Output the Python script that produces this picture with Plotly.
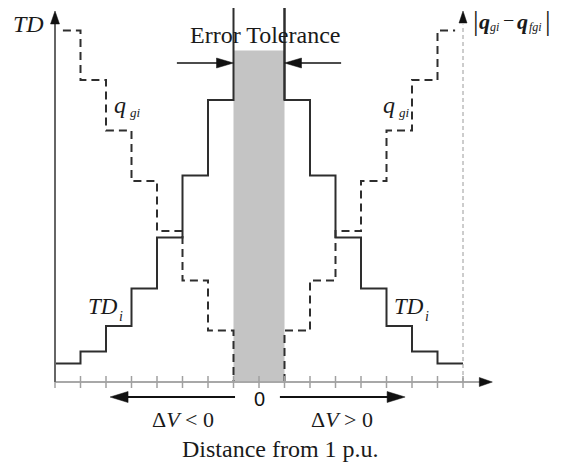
import plotly.graph_objects as go

# ---- data (schematic units: x = tick index, y = step level) ----
tick_positions = list(range(0, 17))          # 17 ticks on the distance axis
center_tick = 8                              # "0" = 1 p.u.
center_label = "0"
td_levels = [0.37, 0.61, 1.12, 1.87, 2.89, 4.13, 5.64]   # TD_i steps (outer -> inner)
td_top = 7.48
q_levels = [7.03, 6.04, 5.03, 4.02, 3.02, 2.03, 1.03]    # q_gi steps (outer -> inner)
q_start = 0.31
tol_left, tol_right, tol_top = 7, 9, 6.63

# ---- scale ----
W, H = 561, 462
px_per_x, px_per_y = 25.5, 50.0
x0_px, y0_px = 55, 382
xr = [-x0_px / px_per_x, (W - x0_px) / px_per_x]
yr = [-(H - y0_px) / px_per_y, y0_px / px_per_y]

DARK = "#2e2e2e"
INK = "#1a1a1a"
SERIF = "Liberation Serif, Times New Roman, serif"

fig = go.Figure()

def line(x, y, color=DARK, width=2, dash=None, shape="linear"):
    fig.add_trace(go.Scatter(x=x, y=y, mode="lines",
                             line=dict(color=color, width=width, dash=dash, shape=shape),
                             hoverinfo="skip", showlegend=False))

def head(x, y, direction, length=14, width=9, color="#111111"):
    # filled triangular arrowhead with its tip at (x, y); sizes in pixels
    if direction in ("left", "right"):
        L = length / px_per_x
        s = 1 if direction == "right" else -1
        hw = width / 2 / px_per_y
        pts = [(x, y), (x - s * L, y + hw), (x - s * L, y - hw)]
    else:
        L = length / px_per_y
        s = 1 if direction == "up" else -1
        hw = width / 2 / px_per_x
        pts = [(x, y), (x - hw, y - s * L), (x + hw, y - s * L)]
    path = "M " + " L ".join(f"{a},{b}" for a, b in pts) + " Z"
    fig.add_shape(type="path", path=path, xref="x", yref="y",
                  fillcolor=color, line=dict(color=color, width=0.5))

# gray error-tolerance band
fig.add_shape(type="rect", x0=tol_left, x1=tol_right, y0=0, y1=tol_top,
              xref="x", yref="y", fillcolor="#c4c4c4", line_width=0, layer="below")

n = len(td_levels)
# TD_i left (rising towards center)
line(list(range(0, n + 1)) + [n], td_levels + [td_levels[-1], td_top], shape="hv")
# TD_i right (falling away from center)
line([tol_right, tol_right] + [tol_right + k for k in range(1, n + 1)],
     [td_top] + td_levels[::-1] + [td_levels[0]], shape="hv")

# q_gi dashed left
line([q_start] + list(range(1, n + 1)) + [n], q_levels + [q_levels[-1], 0],
     dash="8px,5px", shape="hv")
# q_gi dashed right
line([tol_right, tol_right] + [tol_right + k for k in range(1, n)] + [16 - q_start],
     [0] + q_levels[::-1] + [q_levels[0]], dash="8px,5px", shape="hv")

# x axis line + ticks
line([0, 16.9], [0, 0], color="#a8a8a8", width=2)
tx, ty = [], []
for t in tick_positions:
    tx += [t, t, None]
    ty += [0.12, -0.12, None]
line(tx, ty, color="#a0a0a0", width=1.5)
head(17.15, 0, "right", length=13, width=9)

# y axis (TD)
line([0, 0], [0, 7.2], color="#666666", width=2)
head(0, 7.42, "up", length=13, width=9)

# right dashed axis
line([16, 16], [0, 7.15], color="#9a9a9a", width=1, dash="4px,3px")
head(16, 7.42, "up", length=12, width=8)

# tolerance arrows
line([4.78, 6.6], [6.38, 6.38], color="#111111", width=1.5)
head(tol_left, 6.38, "right", length=17, width=10)
line([9.4, 11.22], [6.38, 6.38], color="#111111", width=1.5)
head(tol_right, 6.38, "left", length=17, width=10)

# bottom direction arrows
line([2.6, 7.06], [-0.3, -0.3], color="#111111", width=2)
head(2.16, -0.3, "left", length=18, width=11)
line([8.82, 13.3], [-0.3, -0.3], color="#111111", width=2)
head(13.73, -0.3, "right", length=18, width=11)

# boundary line above band (right)
line([tol_right, tol_right], [td_levels[-1], td_top])

ann = []
def text(px, py, s, size=24, italic=False, bold=False, family=SERIF, color=INK):
    ann.append(dict(x=(px - x0_px) / px_per_x, y=(y0_px - py) / px_per_y,
                    xref="x", yref="y", text=s, showarrow=False,
                    font=dict(family=family, size=size, color=color,
                              style="italic" if italic else "normal",
                              weight="bold" if bold else "normal"),
                    xanchor="center", yanchor="middle"))

text(265, 35, "Error Tolerance")
text(28, 24, "TD", italic=True)
# q_gi labels (main symbol + subscript)
for qx in (120, 389):
    text(qx, 105, "q", size=24, italic=True)
    text(qx + 15, 112, "gi", size=13, italic=True)
# TD_i labels
for tdx in (103, 409):
    text(tdx, 306, "TD", size=23, italic=True)
    text(tdx + 18, 316, "i", size=14, italic=True)
# |q_gi - q_fgi|
text(476, 20, "|", size=28)
text(484, 21, "q", size=22, italic=True, bold=True)
text(494, 27, "gi", size=12, italic=True)
text(508, 20, "−", size=20)
text(522, 21, "q", size=22, italic=True, bold=True)
text(535, 27, "fgi", size=12, italic=True)
text(548, 20, "|", size=28)
text(259, 399, center_label, size=20, family="Liberation Sans, Arial, sans-serif", color="#111111")
text(183, 419, "Δ<i>V</i> &lt; 0", size=22)
text(342, 419, "Δ<i>V</i> &gt; 0", size=22)
text(280, 449, "Distance from 1 p.u.")

fig.update_layout(
    width=W, height=H, margin=dict(l=0, r=0, t=0, b=0),
    paper_bgcolor="white", plot_bgcolor="white",
    xaxis=dict(range=xr, visible=False, fixedrange=True),
    yaxis=dict(range=yr, visible=False, fixedrange=True),
    annotations=ann, showlegend=False,
)
fig.write_html("out.html", config={"displayModeBar": False})
